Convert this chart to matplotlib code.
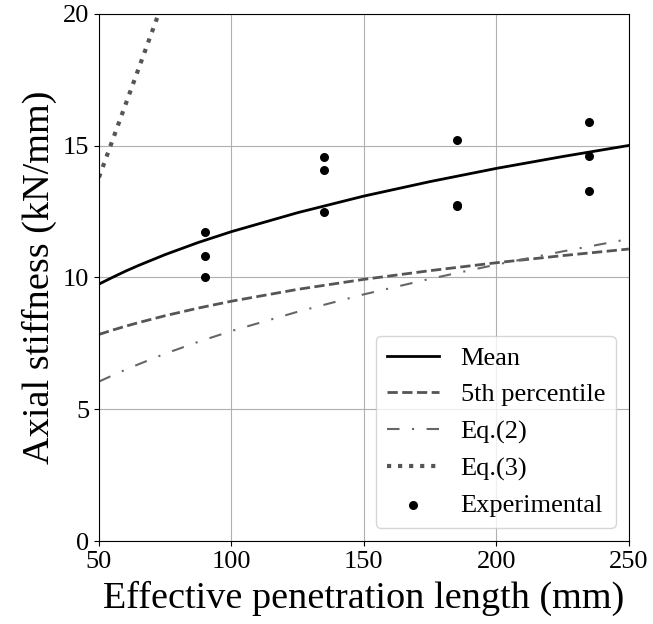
import numpy as np
import matplotlib
matplotlib.use('Agg')
from matplotlib import pyplot as plt

# curve values at these lengths (mm)
x_curve = [50, 55, 60, 65, 75, 87.5, 100, 125, 150, 175, 200, 225, 250]
mean_k = [9.75, 10.00, 10.24, 10.46, 10.87, 11.33, 11.74, 12.46, 13.09, 13.64, 14.14, 14.59, 15.01]
p5_k = [7.84, 8.00, 8.15, 8.29, 8.55, 8.84, 9.10, 9.55, 9.93, 10.26, 10.56, 10.83, 11.08]
eq2_k = [6.05, 6.28, 6.50, 6.71, 7.11, 7.56, 7.97, 8.70, 9.36, 9.95, 10.49, 10.99, 11.46]

x_eq3 = [50, 75]
eq3_k = [13.8, 20.7]

# experimental points
x_exp = [90, 90, 90, 135, 135, 135, 185, 185, 185, 235, 235, 235]
k_exp = [11.71, 10.80, 10.0, 14.59, 14.09, 12.49, 15.20, 12.75, 12.70, 15.89, 14.61, 13.29]

plt.rcParams['font.family'] = ['Liberation Serif', 'DejaVu Serif']

fig = plt.figure(figsize=(6.53, 6.24), dpi=100)
ax = fig.add_axes([0.1516, 0.133, 0.8114, 0.8446])

ax.plot(x_curve, mean_k, color='black', lw=2, label='Mean')
ax.plot(x_curve, p5_k, color='#555555', lw=2, linestyle='--', label='5th percentile')
ax.plot(x_curve, eq2_k, color='#666666', lw=1.5, linestyle=(0, (6, 6, 1, 6)), label='Eq.(2)')
ax.plot(x_eq3, eq3_k, color='#555555', lw=3, linestyle=':', label='Eq.(3)')
ax.scatter(x_exp, k_exp, color='black', s=30, zorder=3, label='Experimental')

ax.set_xlim(50, 250)
ax.set_ylim(0, 20)
ax.set_xticks([50, 100, 150, 200, 250])
ax.set_yticks([0, 5, 10, 15, 20])
ax.tick_params(labelsize=19)
ax.grid(True)
ax.set_axisbelow(True)

ax.set_xlabel('Effective penetration length (mm)', fontsize=27.5, labelpad=6)
ax.set_ylabel('Axial stiffness (kN/mm)', fontsize=27.5)
ax.legend(loc='lower right', fontsize=19)

fig.savefig('out.png', dpi=100)
